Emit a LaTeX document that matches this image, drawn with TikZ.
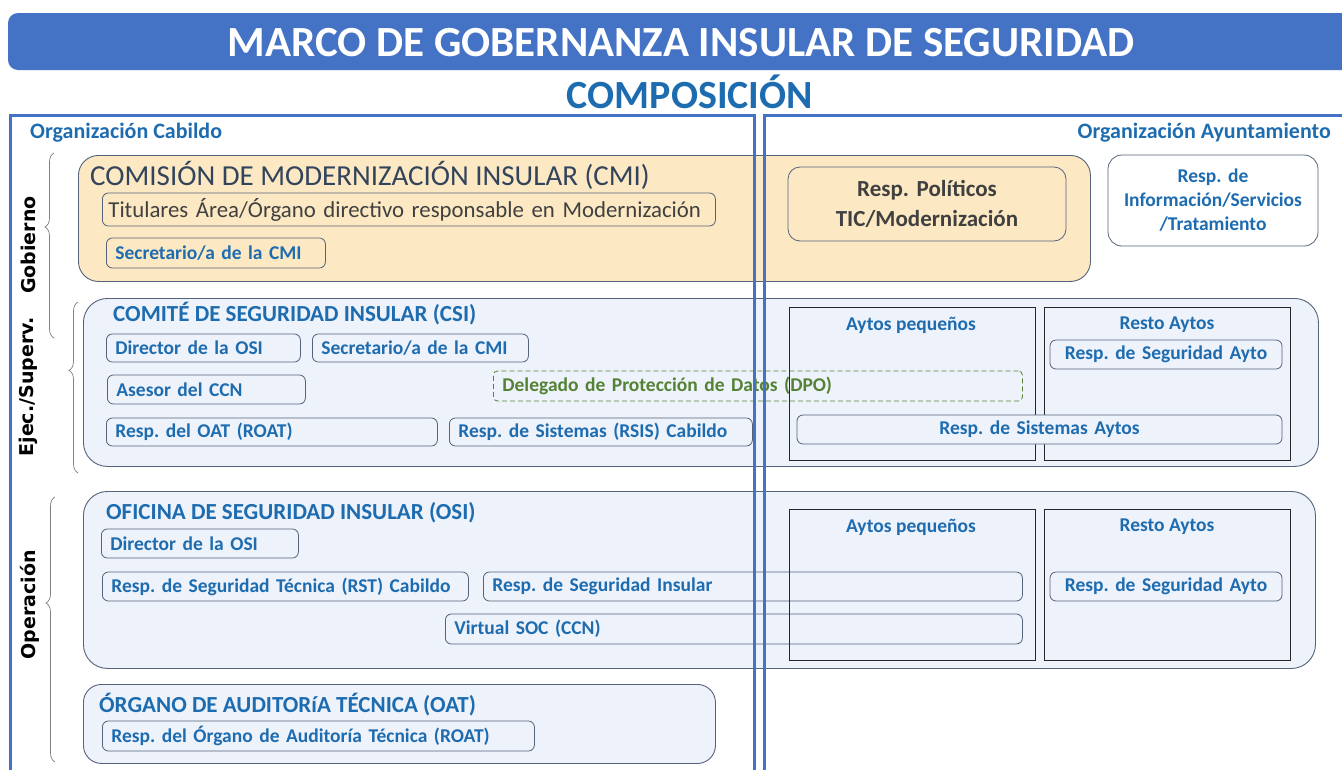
\documentclass[tikz,border=0pt]{standalone}
\usepackage{fontspec}
\setmainfont{Carlito}
\newfontfamily\ejefont{DejaVu Sans}
\usetikzlibrary{decorations.pathreplacing}
\frenchspacing

\definecolor{panelblue}{RGB}{68,114,196}
\definecolor{textblue}{RGB}{30,108,176}
\definecolor{cmifill}{RGB}{252,233,195}
\definecolor{csifill}{RGB}{238,242,250}
\definecolor{frameline}{RGB}{84,98,122}
\definecolor{darktext}{RGB}{64,64,64}
\definecolor{slatetext}{RGB}{50,68,92}
\definecolor{dpogreen}{RGB}{84,130,53}

\tikzset{
  organo/.style={draw=frameline, line width=0.9pt, rounded corners=24pt, anchor=north west, inner sep=0pt},
  cargo/.style={draw=frameline, line width=0.8pt, rounded corners=6pt, anchor=west, inner xsep=9pt, inner ysep=0pt, align=left, minimum height=29pt, text=textblue, font=\bfseries\fontsize{19.5}{22}\selectfont},
  grupo/.style={draw=black!85, line width=0.8pt, anchor=north west, inner sep=0pt},
  titulo/.style={anchor=west, inner sep=0pt, text=textblue},
  rotulo/.style={text=textblue, inner sep=0pt, font=\bfseries\fontsize{19.5}{22}\selectfont},
  eje/.style={rotate=90, inner sep=0pt, font=\ejefont\bfseries\fontsize{19}{22}\selectfont},
  llave/.style={draw=black!50, line width=0.7pt, decorate, decoration={brace, amplitude=9pt, aspect=0.6}},
  panel/.style={draw=panelblue, line width=3pt}
}

\begin{document}
\begin{tikzpicture}[x=1pt,y=-1pt]
  \useasboundingbox (0,0) rectangle (1342,769);

  % cabecera
  \fill[panelblue, rounded corners=10pt] (8,13) rectangle (1370,70);
  \node[text=white, font=\bfseries\fontsize{43}{46}\selectfont] (marco) at (681,43) {MARCO DE GOBERNANZA INSULAR DE SEGURIDAD};
  \node[text=textblue, font=\bfseries\fontsize{40}{44}\selectfont] (composicion) at (690,92) {COMPOSICIÓN};

  \node[titulo, font=\bfseries\fontsize{22}{24}\selectfont] (orgcab) at (30,133) {Organización Cabildo};
  \node[titulo, anchor=east, font=\bfseries\fontsize{22}{24}\selectfont] (orgayto) at (1331,133) {Organización Ayuntamiento};

  % organos
  \node[organo, fill=cmifill, minimum width=1012pt, minimum height=126pt, rounded corners=20pt] (cmi) at (78,155) {};
  \node[organo, fill=csifill, minimum width=1235pt, minimum height=168pt] (csi) at (83,298) {};
  \node[organo, fill=csifill, minimum width=1232pt, minimum height=177pt] (osi) at (83,491) {};
  \node[organo, fill=csifill, minimum width=632pt, minimum height=79pt, rounded corners=18pt] (oat) at (83,684) {};

  \node[titulo, text=slatetext, font=\fontsize{29}{32}\selectfont] (cmititulo) at (90,175) {COMISIÓN DE MODERNIZACIÓN INSULAR (CMI)};
  \node[titulo, font=\bfseries\fontsize{23}{26}\selectfont] (csititulo) at (113,314) {COMITÉ DE SEGURIDAD INSULAR (CSI)};
  \node[titulo, font=\bfseries\fontsize{23}{26}\selectfont] (osititulo) at (106,513) {OFICINA DE SEGURIDAD INSULAR (OSI)};
  \node[titulo, font=\bfseries\fontsize{23}{26}\selectfont] (oattitulo) at (99,705) {ÓRGANO DE AUDITORíA TÉCNICA (OAT)};

  % CMI
  \node[cargo, inner xsep=6pt, text width=601pt, minimum height=33pt, text=darktext, font=\fontsize{22.8}{24}\selectfont] (titulares) at (102,209.5) {Titulares Área/Órgano directivo responsable en Modernización};
  \node[cargo, text width=201pt, minimum height=30pt] (seccmi) at (106,253) {Secretario/a de la CMI};
  \node[cargo, anchor=center, text width=260pt, align=center, minimum height=74pt, rounded corners=12pt, text=darktext, font=\bfseries\fontsize{23}{30}\selectfont] (politicos) at (927,204) {Resp. Políticos\\TIC/Modernización};
  \node[cargo, anchor=center, fill=white, text width=192pt, align=center, minimum height=91pt, rounded corners=14pt, font=\bfseries\fontsize{19.5}{24}\selectfont] (info) at (1213,200.5) {Resp. de\\Información/Servicios\\/Tratamiento};

  % CSI
  \node[cargo, text width=176pt, minimum height=28pt] (csidir) at (106,348) {Director de la OSI};
  \node[cargo, text width=198pt, minimum height=28pt] (csisec) at (312,348) {Secretario/a de la CMI};
  \node[cargo, text width=180pt] (asesor) at (107,389.5) {Asesor del CCN};
  \node[cargo, draw=dpogreen, dash pattern=on 5pt off 3pt, rounded corners=4pt, text=dpogreen, text width=511pt, minimum height=30pt] (dpo) at (493,386) {Delegado de Protección de Datos (DPO)};
  \node[cargo, text width=313pt, minimum height=28pt] (csiroat) at (106,432) {Resp. del OAT (ROAT)};
  \node[cargo, text width=285pt, minimum height=28pt] (rsis) at (449,432) {Resp. de Sistemas (RSIS) Cabildo};
  \node[grupo, minimum width=246pt, minimum height=153pt] (csipeq) at (789,307) {};
  \node[grupo, minimum width=246pt, minimum height=153pt] (csiresto) at (1044,307) {};
  \node[rotulo] (csipeqlbl) at (911,325) {Aytos pequeños};
  \node[rotulo] (csirestolbl) at (1167,325) {Resto Aytos};
  \node[cargo, anchor=center, fill=csifill, text width=214pt, align=center] (csiseg) at (1166,354.5) {Resp. de Seguridad Ayto};
  \node[cargo, anchor=center, fill=csifill, text width=467pt, align=center] (rsisaytos) at (1039.5,429.5) {Resp. de Sistemas Aytos};

  % OSI
  \node[cargo, text width=179pt] (osidir) at (101,543.5) {Director de la OSI};
  \node[cargo, text width=348pt] (rst) at (102,586.5) {Resp. de Seguridad Técnica (RST) Cabildo};
  \node[cargo, text width=521pt] (rsi) at (483,586.5) {Resp. de Seguridad Insular};
  \node[cargo, text width=559pt, minimum height=30pt] (vsoc) at (445,629) {Virtual SOC (CCN)};
  \node[grupo, minimum width=246pt, minimum height=151pt] (osipeq) at (789,509) {};
  \node[grupo, minimum width=246pt, minimum height=151pt] (osiresto) at (1044,509) {};
  \node[rotulo] (osipeqlbl) at (911,527) {Aytos pequeños};
  \node[rotulo] (osirestolbl) at (1167,527) {Resto Aytos};
  \node[cargo, anchor=center, fill=csifill, text width=214pt, align=center] (osiseg) at (1166,586.5) {Resp. de Seguridad Ayto};

  % OAT
  \node[cargo, text width=414pt, minimum height=30pt] (oatroat) at (102,736) {Resp. del Órgano de Auditoría Técnica (ROAT)};

  % paneles
  \draw[panel] (10,780) -- (10,115) -- (754,115) -- (754,780);
  \draw[panel] (764,780) -- (764,115) -- (1350,115);

  % llaves
  \draw[llave] (54,338) -- (54,153);
  \draw[llave] (78,473) -- (78,302);
  \draw[llave] (55,762) -- (55,497);
  \node[eje] (gobierno) at (28,245) {Gobierno};
  \node[eje] (ejec) at (28,387) {Ejec./Superv.};
  \node[eje] (operacion) at (30,605) {Operación};
\end{tikzpicture}
\end{document}
